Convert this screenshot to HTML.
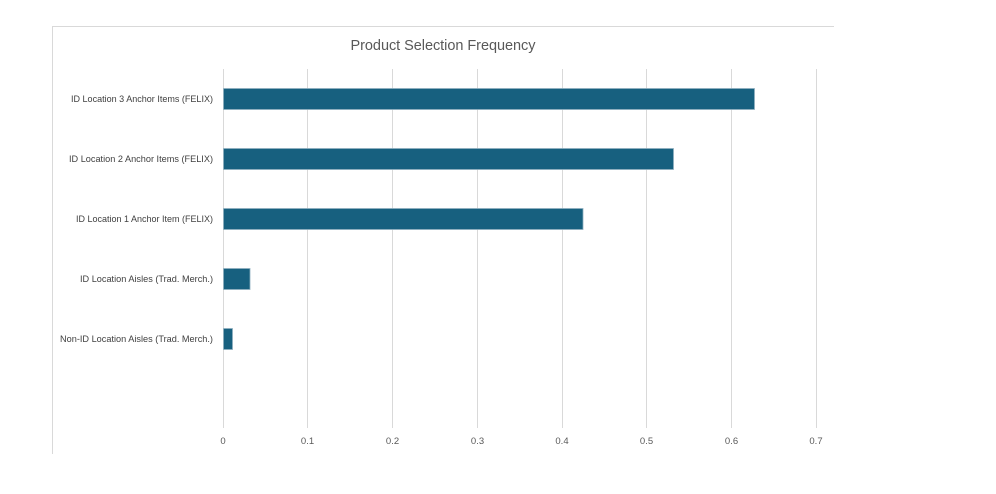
<!DOCTYPE html>
<html><head><style>
body{margin:0;background:#fff;}
svg{display:block;font-family:"Liberation Sans",sans-serif;}
</style></head><body>
<svg width="996" height="494" xmlns="http://www.w3.org/2000/svg">
<line x1="52" y1="26.5" x2="834" y2="26.5" stroke="#d9d9d9"/>
<line x1="52.5" y1="26" x2="52.5" y2="454" stroke="#d9d9d9"/>
<text x="443" y="50" text-anchor="middle" font-size="14.5" fill="#595959" textLength="185">Product Selection Frequency</text>
<g stroke="#d9d9d9" stroke-width="1">
<line x1="223.5" y1="69" x2="223.5" y2="428"/>
<line x1="307.5" y1="69" x2="307.5" y2="428"/>
<line x1="392.5" y1="69" x2="392.5" y2="428"/>
<line x1="477.5" y1="69" x2="477.5" y2="428"/>
<line x1="562.5" y1="69" x2="562.5" y2="428"/>
<line x1="646.5" y1="69" x2="646.5" y2="428"/>
<line x1="731.5" y1="69" x2="731.5" y2="428"/>
<line x1="816.5" y1="69" x2="816.5" y2="428"/>
</g>
<g fill="#17607f" stroke="#8fb0c0" stroke-width="0.8">
<rect x="223.5" y="88.5" width="531" height="21"/>
<rect x="223.5" y="148.5" width="450" height="21"/>
<rect x="223.5" y="208.5" width="359.5" height="21"/>
<rect x="223.5" y="268.5" width="26.5" height="21"/>
<rect x="223.5" y="328.5" width="9" height="21"/>
</g>
<g font-size="9.5" fill="#404040" text-anchor="end">
<text x="213" y="102" textLength="142" lengthAdjust="spacingAndGlyphs">ID Location 3 Anchor Items (FELIX)</text>
<text x="213" y="162" textLength="144" lengthAdjust="spacingAndGlyphs">ID Location 2 Anchor Items (FELIX)</text>
<text x="213" y="222" textLength="137" lengthAdjust="spacingAndGlyphs">ID Location 1 Anchor Item (FELIX)</text>
<text x="213" y="282" textLength="133" lengthAdjust="spacingAndGlyphs">ID Location Aisles (Trad. Merch.)</text>
<text x="213" y="342" textLength="153" lengthAdjust="spacingAndGlyphs">Non-ID Location Aisles (Trad. Merch.)</text>
</g>
<g font-size="9.5" fill="#595959" text-anchor="middle">
<text x="223" y="444">0</text>
<text x="307.5" y="444">0.1</text>
<text x="392.5" y="444">0.2</text>
<text x="477.5" y="444">0.3</text>
<text x="562" y="444">0.4</text>
<text x="646.5" y="444">0.5</text>
<text x="731.5" y="444">0.6</text>
<text x="816" y="444">0.7</text>
</g>
</svg>
</body></html>
